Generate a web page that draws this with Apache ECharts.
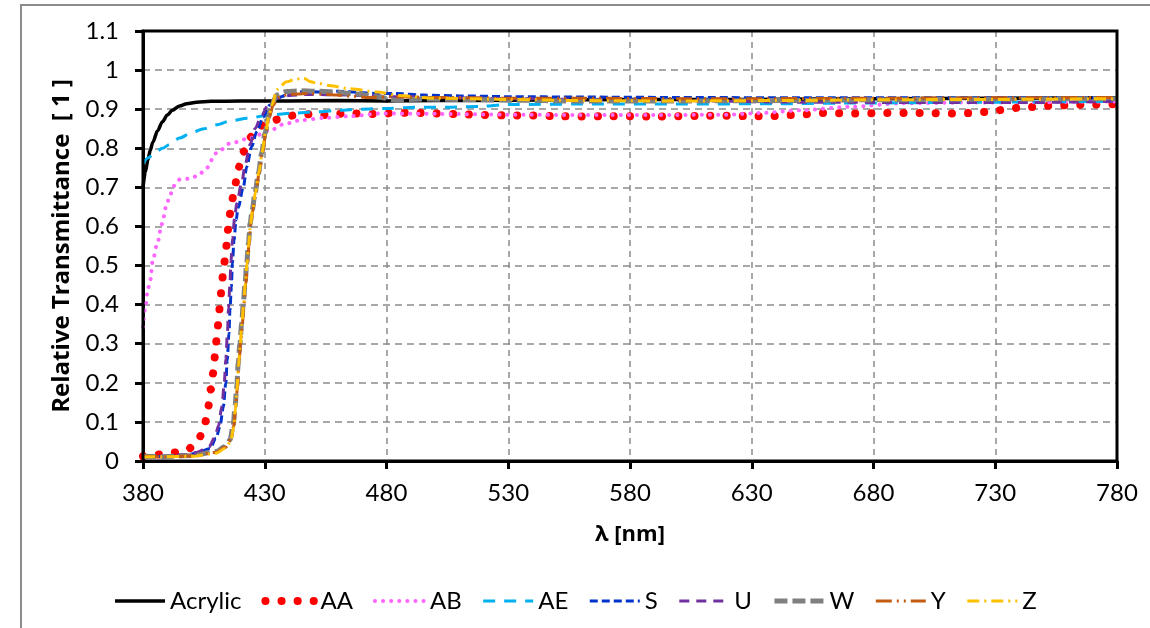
<!DOCTYPE html>
<html>
<head>
<meta charset="utf-8">
<script src="https://cdn.jsdelivr.net/npm/echarts@6/dist/echarts.min.js"></script>
<style>
  html, body { margin: 0; padding: 0; background: #fff; }
  #chart { width: 1150px; height: 628px; }
</style>
</head>
<body>
<div id="chart"></div>
<script>
// wavelength [nm], relative transmittance pairs
const acrylic = [
  [380, 0.70], [381, 0.74], [382, 0.77], [383, 0.795], [384, 0.815], [386, 0.845], [388, 0.868],
  [390, 0.885], [392, 0.897], [395, 0.908], [398, 0.914], [402, 0.918], [408, 0.92], [420, 0.921],
  [440, 0.921], [460, 0.922], [480, 0.921], [500, 0.922], [530, 0.923], [560, 0.924], [600, 0.925],
  [630, 0.925], [680, 0.927], [730, 0.928], [780, 0.929],
];
const aa = [
  [380, 0.012], [384, 0.015], [391, 0.02], [398, 0.028], [401, 0.04], [403, 0.058], [405.5, 0.098],
  [406.8, 0.139], [407.8, 0.183], [408.9, 0.226], [409.6, 0.271], [410.3, 0.315], [411, 0.356],
  [411.6, 0.4], [412.3, 0.444], [413, 0.488], [414, 0.533], [414.6, 0.575], [415.3, 0.618],
  [416.4, 0.662], [417.8, 0.706], [419.1, 0.749], [421.2, 0.791], [424.6, 0.83], [429.4, 0.86],
  [435.6, 0.874], [442, 0.884], [449, 0.887], [456, 0.885], [463, 0.889], [470, 0.889], [476, 0.887],
  [483, 0.89], [490, 0.891], [500, 0.889], [510, 0.887], [520, 0.885], [530, 0.884], [540, 0.884],
  [550, 0.882], [560, 0.881], [570, 0.882], [580, 0.882], [590, 0.881], [600, 0.882], [610, 0.883],
  [620, 0.883], [630, 0.882], [638, 0.882], [645, 0.885], [652, 0.887], [659, 0.89], [672, 0.889],
  [685, 0.89], [699, 0.89], [713, 0.889], [720, 0.89], [727, 0.893], [733, 0.898], [740, 0.904],
  [747, 0.906], [753, 0.909], [760, 0.91], [767, 0.912], [780, 0.913],
];
const ab = [
  [380, 0.343], [381, 0.395], [382, 0.44], [383, 0.463], [384, 0.514], [386, 0.56], [387.7, 0.606],
  [389.7, 0.655], [391, 0.68], [393, 0.705], [395, 0.72], [399, 0.722], [402.6, 0.73], [406, 0.749],
  [410, 0.787], [416, 0.813], [424, 0.826], [432, 0.845], [438, 0.862], [445, 0.872], [455, 0.878],
  [465, 0.882], [478, 0.889], [500, 0.888], [530, 0.886], [560, 0.885], [590, 0.885], [620, 0.886],
  [633, 0.89], [650, 0.897], [670, 0.906], [692, 0.915], [720, 0.917], [750, 0.918], [780, 0.92],
];
const ae = [
  [380, 0.76], [382, 0.775], [385, 0.79], [388, 0.8], [391, 0.81], [395, 0.826], [400, 0.84],
  [405, 0.85], [410, 0.86], [416, 0.87], [423, 0.877], [432, 0.885], [442, 0.89], [451, 0.893],
  [460, 0.897], [470, 0.9], [480, 0.902], [492, 0.905], [505, 0.905], [518, 0.907], [530, 0.912],
  [560, 0.913], [600, 0.913], [640, 0.914], [680, 0.916], [730, 0.918], [780, 0.92],
];
const s = [
  [380, 0.01], [390, 0.012], [398, 0.016], [402, 0.02], [407.5, 0.032], [410, 0.058], [411.6, 0.088],
  [413, 0.139], [414, 0.199], [414.6, 0.258], [415.3, 0.327], [415.7, 0.386], [416.3, 0.446],
  [416.7, 0.506], [417.4, 0.565], [418.2, 0.616], [419.1, 0.648], [421.2, 0.7], [422.6, 0.753],
  [424.6, 0.804], [426.7, 0.842], [429.4, 0.88], [432, 0.91], [434.9, 0.928], [439, 0.936],
  [445.8, 0.945], [452, 0.944], [460, 0.946], [468, 0.943], [476, 0.94], [484, 0.94], [495, 0.936],
  [510, 0.934], [530, 0.932], [560, 0.931], [600, 0.93], [650, 0.929], [700, 0.929], [740, 0.93],
  [780, 0.93],
];
const u = [
  [380, 0.01], [390, 0.012], [398, 0.017], [402, 0.022], [407, 0.035], [409.5, 0.06], [411, 0.09],
  [412.4, 0.14], [413.4, 0.2], [414, 0.26], [414.7, 0.33], [415.1, 0.39], [415.7, 0.45], [416.1, 0.51],
  [416.8, 0.57], [417.6, 0.62], [418.5, 0.66], [420.5, 0.71], [422, 0.76], [424, 0.81], [426, 0.85],
  [428.7, 0.885], [431.5, 0.912], [434.5, 0.928], [440, 0.935], [448, 0.938], [458, 0.937],
  [470, 0.935], [485, 0.932], [500, 0.93], [530, 0.927], [560, 0.925], [600, 0.922], [650, 0.918],
  [700, 0.917], [740, 0.917], [780, 0.92],
];
const w = [
  [380, 0.012], [388, 0.011], [400, 0.014], [410, 0.024], [413.7, 0.037], [415.7, 0.054], [417, 0.088],
  [417.8, 0.139], [418.5, 0.19], [419.1, 0.25], [419.8, 0.3], [420.5, 0.352], [421.2, 0.403],
  [421.9, 0.454], [422.6, 0.506], [423.3, 0.557], [424, 0.608], [424.8, 0.64], [426, 0.685],
  [427.4, 0.736], [428.7, 0.787], [430.1, 0.838], [431.5, 0.88], [432.8, 0.91], [434.9, 0.936],
  [439, 0.945], [444.5, 0.947], [451, 0.946], [458, 0.944], [467.7, 0.939], [476, 0.932], [484, 0.923],
  [495, 0.926], [510, 0.925], [530, 0.923], [560, 0.921], [600, 0.921], [640, 0.922], [680, 0.924],
  [730, 0.926], [780, 0.927],
];
const y = [
  [380, 0.012], [388, 0.011], [400, 0.013], [410, 0.022], [414, 0.036], [416, 0.055], [417.3, 0.09],
  [418.1, 0.14], [418.8, 0.19], [419.4, 0.25], [420.1, 0.3], [420.8, 0.352], [421.5, 0.403],
  [422.2, 0.454], [422.9, 0.506], [423.6, 0.557], [424.3, 0.608], [425.2, 0.645], [426.4, 0.69],
  [427.8, 0.74], [429.1, 0.79], [430.5, 0.84], [432, 0.882], [433.4, 0.91], [435.5, 0.93], [440, 0.938],
  [448, 0.94], [455, 0.938], [459.5, 0.936], [466, 0.933], [473, 0.93], [485, 0.932], [500, 0.93],
  [530, 0.928], [560, 0.928], [600, 0.927], [640, 0.927], [680, 0.928], [730, 0.929], [780, 0.93],
];
const z = [
  [380, 0.01], [388, 0.011], [400, 0.012], [410, 0.02], [414, 0.033], [416, 0.05], [417.2, 0.085],
  [418, 0.135], [418.6, 0.185], [419.2, 0.245], [419.9, 0.295], [420.6, 0.35], [421.3, 0.4],
  [422, 0.452], [422.7, 0.505], [423.4, 0.555], [424.1, 0.605], [425, 0.64], [426.2, 0.688],
  [427.6, 0.738], [428.9, 0.79], [430.3, 0.84], [431.7, 0.882], [433, 0.912], [435, 0.95], [439, 0.97],
  [442, 0.975], [445.7, 0.98], [449, 0.97], [451, 0.967], [457, 0.96], [465, 0.952], [476, 0.944],
  [485, 0.935], [500, 0.928], [530, 0.925], [560, 0.922], [600, 0.921], [640, 0.922], [680, 0.924],
  [730, 0.925], [780, 0.927],
];

const seriesDefs = [
  { name: "Acrylic", data: acrylic, color: "#000000", width: 3.5, type: "solid", cap: "butt" },
  { name: "AA", data: aa, color: "#ff0000", width: 8, type: [0.1, 16], cap: "round" },
  { name: "AB", data: ab, color: "#ff66ff", width: 4, type: [0.1, 8], cap: "round" },
  { name: "AE", data: ae, color: "#00b0f0", width: 3, type: [12, 9], cap: "butt" },
  { name: "S", data: s, color: "#0033cc", width: 3, type: [8, 4], cap: "butt" },
  { name: "U", data: u, color: "#7030a0", width: 3, type: [10, 7], cap: "butt" },
  { name: "W", data: w, color: "#808080", width: 5, type: [13, 5], cap: "butt" },
  { name: "Y", data: y, color: "#c55a11", width: 3, type: [16, 5, 2, 5, 2, 5], cap: "butt" },
  { name: "Z", data: z, color: "#ffc000", width: 3, type: [12, 5, 2, 5], cap: "butt" },
];

const tickFont = "Lato";
const titleFont = "Open Sans";

const chart = echarts.init(document.getElementById("chart"), null, { renderer: "canvas" });

chart.setOption({
  animation: false,
  backgroundColor: "#ffffff",
  graphic: [
    {
      type: "rect",
      shape: { x: 21, y: 5, width: 1200, height: 700 },
      style: { fill: "none", stroke: "#8c8c8c", lineWidth: 2 },
      silent: true,
    },
    {
      // black plot frame drawn above the grid lines
      type: "rect",
      shape: { x: 143, y: 31, width: 974, height: 430 },
      style: { fill: "none", stroke: "#000", lineWidth: 3 },
      silent: true,
      z: 10,
    },
  ],
  grid: {
    left: 143,
    right: 33,
    top: 31,
    bottom: 167,
    show: false,
  },
  legend: {
    data: seriesDefs.map((d) => d.name),
    left: "center",
    top: 584,
    itemWidth: 50,
    itemHeight: 14,
    itemGap: 20,
    itemStyle: { opacity: 0 },
    lineStyle: { width: "inherit" },
    textStyle: { fontFamily: tickFont, fontSize: 24, color: "#000" },
  },
  xAxis: {
    type: "value",
    min: 380,
    max: 780,
    interval: 50,
    name: "λ [nm]",
    nameLocation: "middle",
    nameGap: 63,
    nameTextStyle: { fontFamily: titleFont, fontWeight: "bold", fontSize: 22, color: "#000" },
    axisLine: { lineStyle: { color: "#000", width: 3 } },
    axisTick: { show: true, inside: false, length: 8, lineStyle: { color: "#000", width: 3 } },
    axisLabel: { fontFamily: tickFont, fontSize: 24, color: "#000", margin: 20 },
    splitLine: {
      show: true,
      showMinLine: false,
      showMaxLine: false,
      lineStyle: { color: "#8c8c8c", width: 1.5, type: [6, 5] },
    },
  },
  yAxis: {
    type: "value",
    min: 0,
    max: 1.1,
    interval: 0.1,
    name: "Relative Transmittance  [ 1 ]",
    nameLocation: "middle",
    nameGap: 64,
    nameTextStyle: { fontFamily: titleFont, fontWeight: "bold", fontSize: 24, color: "#000" },
    axisLine: { lineStyle: { color: "#000", width: 3 } },
    axisTick: { show: true, inside: false, length: 8, lineStyle: { color: "#000", width: 3 } },
    axisLabel: {
      fontFamily: tickFont,
      fontSize: 24,
      color: "#000",
      margin: 24,
      formatter: (v) => String(Number(v.toFixed(1))),
    },
    splitLine: {
      show: true,
      showMinLine: false,
      showMaxLine: false,
      lineStyle: { color: "#8c8c8c", width: 1.5, type: [7, 5] },
    },
  },
  series: seriesDefs.map((d) => ({
    name: d.name,
    type: "line",
    data: d.data,
    symbol: "none",
    showSymbol: false,
    smooth: 0.3,
    smoothMonotone: "x",
    color: d.color,
    lineStyle: { color: d.color, width: d.width, type: d.type, cap: d.cap },
  })),
});
</script>
</body>
</html>
